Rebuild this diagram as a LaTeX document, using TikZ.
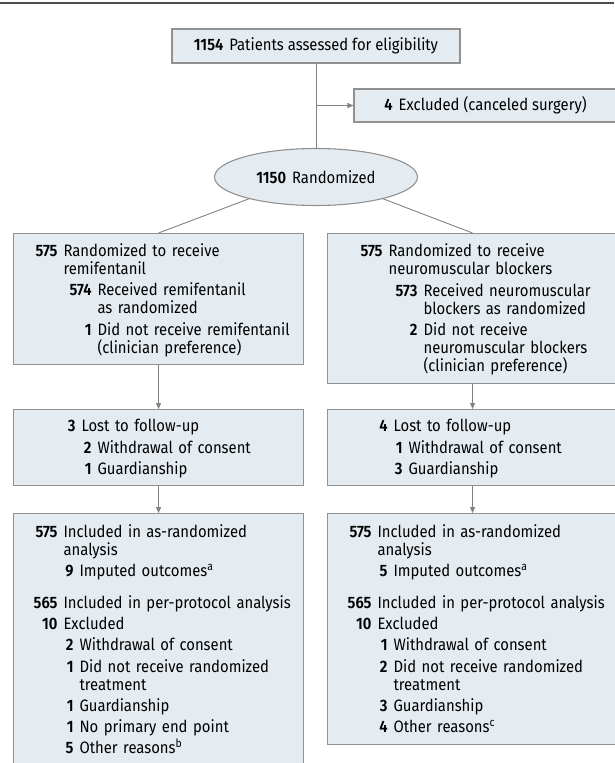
\documentclass[tikz,border=0pt]{standalone}
\usepackage{fontspec}
\setmainfont{Fira Sans}[FakeStretch=0.9,BoldFont={* SemiBold}]
\usetikzlibrary{arrows.meta}
\usetikzlibrary{shapes.geometric}
\usetikzlibrary{positioning}
\definecolor{boxFill}{RGB}{229,236,241}
\definecolor{boxLine}{RGB}{145,145,145}
\definecolor{linkGray}{RGB}{130,130,130}
\setlength{\parindent}{0pt}
\newcommand{\boxfont}{\fontsize{16.5pt}{18pt}\selectfont\lineskiplimit=-20pt\relax}
% one counted line and one wrapped line inside a box
\newcommand{\numline}[3]{\hspace*{#1pt}\llap{\textbf{#2}\hspace{6pt}}\vrule width0pt height15pt depth3pt\mbox{#3}}
\newcommand{\contline}[2]{\hspace*{#1pt}\vrule width0pt height15pt depth3pt\mbox{#2}}

\begin{document}
\begin{tikzpicture}[x=1pt,y=-1pt,>={Triangle[length=6pt,width=5pt]},
  font=\boxfont,
  box/.style={rectangle,draw=boxLine,fill=boxFill,line width=1.1pt,inner sep=0pt},
  flow box/.style={box,anchor=north west,text width=290pt,minimum width=290pt,
  align=left},
  link/.style={draw=linkGray,line width=0.9pt}]
\useasboundingbox (0,0) rectangle (614,763);
\draw[line width=1.6pt,draw=black!70] (0,3) -- (614,3);
%------------------------------------------------------------------------
% Enrollment
%------------------------------------------------------------------------
\node[box,minimum width=288pt,minimum height=34pt] (assess) at (316,46)
  {\textbf{1154}\hspace{6pt}Patients assessed for eligibility};
\node[box,minimum width=263pt,minimum height=33pt] (excl) at (485.5,105.5)
  {\textbf{4}\hspace{6pt}Excluded (canceled surgery)};
\node[box,ellipse,minimum width=203pt,minimum height=57pt] (rand) at (316,177)
  {\textbf{1150}\hspace{6pt}Randomized};
%------------------------------------------------------------------------
% Allocation
%------------------------------------------------------------------------
\node[flow box,minimum height=131pt] (remA) at (13,233) {%
\numline{50}{575}{Randomized to receive}\\
\contline{50}{remifentanil}\\[3.5pt]
\numline{84}{574}{Received remifentanil}\\
\contline{84}{as randomized}\\[3.5pt]
\numline{84}{1}{Did not receive remifentanil}\\
\contline{84}{(clinician preference)}};
\node[flow box,minimum height=150pt] (nmbA) at (327,233) {%
\numline{61}{575}{Randomized to receive}\\
\contline{61}{neuromuscular blockers}\\[3.5pt]
\numline{96}{573}{Received neuromuscular}\\
\contline{96}{blockers as randomized}\\[3.5pt]
\numline{96}{2}{Did not receive}\\
\contline{96}{neuromuscular blockers}\\
\contline{96}{(clinician preference)}};
%------------------------------------------------------------------------
% Follow-up
%------------------------------------------------------------------------
\node[flow box,minimum height=76pt] (remB) at (13,409) {%
\numline{68}{3}{Lost to follow-up}\\[3.5pt]
\numline{84}{2}{Withdrawal of consent}\\[3.5pt]
\numline{84}{1}{Guardianship}};
\node[flow box,minimum height=76pt] (nmbB) at (327,409) {%
\numline{66}{4}{Lost to follow-up}\\[3.5pt]
\numline{81}{1}{Withdrawal of consent}\\[3.5pt]
\numline{81}{3}{Guardianship}};
%------------------------------------------------------------------------
% Analysis
%------------------------------------------------------------------------
\node[flow box,minimum height=251.5pt,below=27pt of remB] (remC) {%
\numline{50}{575}{Included in as-randomized}\\
\contline{50}{analysis}\\[3.5pt]
\numline{66}{9}{Imputed outcomes\textsuperscript{a}}\\[14pt]
\numline{50}{565}{Included in per-protocol analysis}\\[3pt]
\numline{50}{10}{Excluded}\\[3pt]
\numline{66}{2}{Withdrawal of consent}\\[3.5pt]
\numline{66}{1}{Did not receive randomized}\\
\contline{66}{treatment}\\[3.5pt]
\numline{66}{1}{Guardianship}\\[3pt]
\numline{66}{1}{No primary end point}\\[3pt]
\numline{66}{5}{Other reasons\textsuperscript{b}}};
\node[flow box,minimum height=231pt,below=27pt of nmbB] (nmbC) {%
\numline{50}{575}{Included in as-randomized}\\
\contline{50}{analysis}\\[3.5pt]
\numline{66}{5}{Imputed outcomes\textsuperscript{a}}\\[14pt]
\numline{50}{565}{Included in per-protocol analysis}\\[3pt]
\numline{50}{10}{Excluded}\\[3pt]
\numline{66}{1}{Withdrawal of consent}\\[3.5pt]
\numline{66}{2}{Did not receive randomized}\\
\contline{66}{treatment}\\[3.5pt]
\numline{66}{3}{Guardianship}\\[3pt]
\numline{66}{4}{Other reasons\textsuperscript{c}}};
%------------------------------------------------------------------------
% The connectors
%------------------------------------------------------------------------
\draw[link] (assess) -- (rand);
\draw[link,->] (assess.south |- excl.west) -- (excl.west);
\draw[link] (rand.198) -- (remA.north);
\draw[link] (rand.342) -- (nmbA.north);
\draw[link,->] (remA) -- (remB);
\draw[link,->] (nmbA) -- (nmbB);
\draw[link,->] (remB) -- (remC);
\draw[link,->] (nmbB) -- (nmbC);
\end{tikzpicture}
\end{document}
